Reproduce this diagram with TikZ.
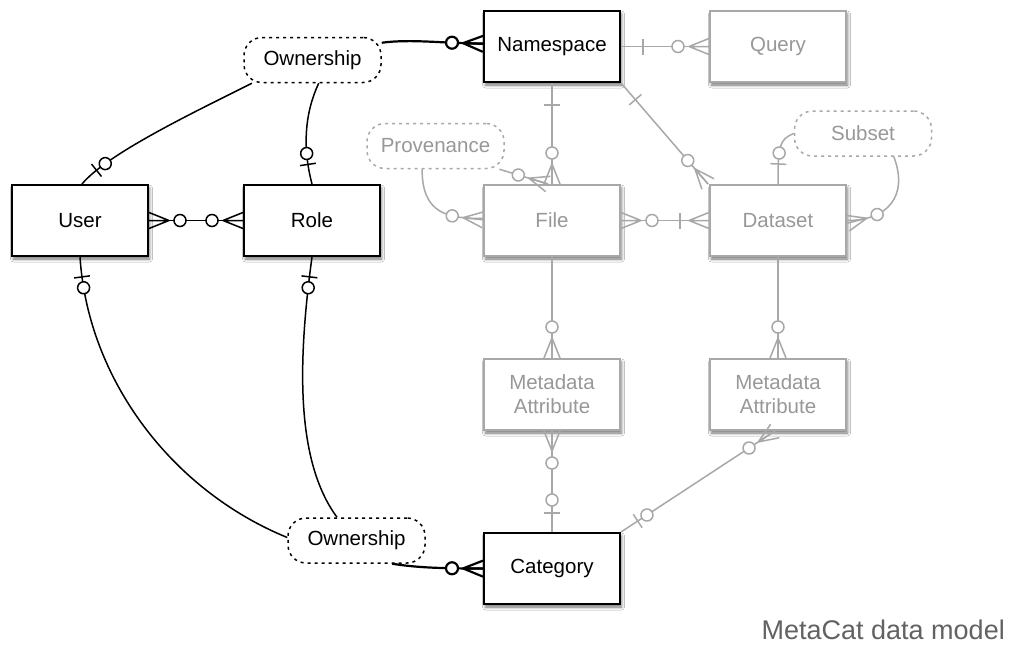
\documentclass[tikz,border=0pt]{standalone}
\usepackage{fontspec}
\setmainfont{Liberation Sans}
\usetikzlibrary{decorations.markings,shadows.blur}

\definecolor{inkgray}{RGB}{168,168,168}
\definecolor{textgray}{RGB}{152,152,152}
\definecolor{titlegray}{RGB}{98,98,98}

\tikzset{
  % crow's foot, ring and bar markers placed along a connector
  crowE/.style={postaction={decorate,decoration={markings,
      mark=at position -20pt with {\draw (0pt,0pt)--(20pt,8pt) (0pt,0pt)--(20pt,0pt) (0pt,0pt)--(20pt,-8pt);}}}},
  crowS/.style={postaction={decorate,decoration={markings,
      mark=at position 20pt with {\draw (0pt,0pt)--(-20pt,8pt) (0pt,0pt)--(-20pt,0pt) (0pt,0pt)--(-20pt,-8pt);}}}},
  ringE/.style={postaction={decorate,decoration={markings,
      mark=at position -#1 with {\draw[fill=white] (0pt,0pt) circle (6pt);}}}},
  ringE/.default=31pt,
  ringS/.style={postaction={decorate,decoration={markings,
      mark=at position #1 with {\draw[fill=white] (0pt,0pt) circle (6pt);}}}},
  ringS/.default=31pt,
  barE/.style={postaction={decorate,decoration={markings,
      mark=at position -#1 with {\draw (0pt,-8pt)--(0pt,8pt);}}}},
  barE/.default=20pt,
  barS/.style={postaction={decorate,decoration={markings,
      mark=at position #1 with {\draw (0pt,-8pt)--(0pt,8pt);}}}},
  barS/.default=20pt,
}

\begin{document}
\begin{tikzpicture}[x=1pt,y=-1pt,
  font=\fontsize{20.5}{24}\selectfont,
  entity/.style={draw, line width=2pt, fill=white, minimum width=136pt,
    minimum height=71pt, inner sep=0pt, align=center,
    blur shadow={shadow xshift=1.5pt, shadow yshift=-3pt,
      shadow blur radius=3pt, shadow opacity=55}},
  gentity/.style={entity, draw=inkgray, text=textgray},
  relship/.style={draw, line width=1.5pt, dash pattern=on 3pt off 4pt,
    rounded corners=18pt, minimum width=137pt, minimum height=45pt,
    inner sep=0pt, fill=white},
  grelship/.style={relship, draw=inkgray, text=textgray},
  link/.style={line width=1.5pt, color=black},
  boldlink/.style={line width=2.2pt, color=black},
  glink/.style={line width=1.5pt, color=inkgray},
]
\fill[white] (0,0) rectangle (1015,645);
\useasboundingbox (0,0) rectangle (1015,645);

% entities
\node[entity]  (ns)      at (552,46.5)  {Namespace};
\node[gentity] (query)   at (778,46.5)  {Query};
\node[entity]  (user)    at (80,220.5)  {User};
\node[entity]  (role)    at (312,220.5) {Role};
\node[gentity] (file)    at (552,220.5) {File};
\node[gentity] (dataset) at (778,220.5) {Dataset};
\node[gentity] (maf)     at (552,394.5) {Metadata\\Attribute};
\node[gentity] (mad)     at (778,394.5) {Metadata\\Attribute};
\node[entity]  (cat)     at (552,568.5) {Category};

% relationships
\node[relship]  (own1)   at (312.5,60)  {Ownership};
\node[grelship] (prov)   at (435.5,146) {Provenance};
\node[grelship] (subset) at (863,133.5) {Subset};
\node[relship]  (own2)   at (356.5,540.5) {Ownership};

% ownership links
\draw[boldlink, ringE, crowE] (own1.14) .. controls +(30,-4) and +(-40,0) .. ([yshift=3pt]ns.west);
\draw[link, ringE, barE] (own1.201) .. controls +(-60,30) and +(25,-30) .. ([xshift=2pt]user.north);
\draw[link, ringE, barE] (own1.-75) .. controls +(-15,32) and +(-9,-34) .. (role.north);
\draw[link, crowS, ringS, ringE, crowE] (user.east) -- (role.west);
\draw[link, barS, ringS] (user.south) .. controls +(8,123) and +(-115,-47) .. ([yshift=3pt]own2.west);
\draw[link, barS, ringS] (role.south) .. controls +(-14,103) and +(-42,-57) .. (own2.130);
\draw[boldlink, ringE, crowE] (own2.-33) .. controls +(25,4) and +(-40,0) .. (cat.west);

% data links
\draw[glink, barS=22pt, ringE, crowE] (ns.east) -- (query.west);
\draw[glink, barS=22pt, ringE, crowE] (ns.south) -- (file.north);
\draw[glink, barS=22pt, ringE, crowE] (ns.south east) -- ([xshift=-1pt]dataset.north west);
\draw[glink, ringE, crowE] (prov.-20) -- ([xshift=-4pt]file.north);
\draw[glink, ringE, crowE] (prov.-120) .. controls +(0,45) and +(-35,0) .. ([yshift=2pt]file.west);
\draw[glink, crowS, ringS, barE=29pt, crowE] (file.east) -- (dataset.west);
\draw[glink, ringE, barE] (subset.west) .. controls +(-14,6) and +(0,-40) .. (dataset.north);
\draw[glink, ringE, crowE] (subset.-37.5) .. controls +(15,40) and +(40,0) .. (dataset.east);
\draw[glink, ringE, crowE] (file.south) -- (maf.north);
\draw[glink, ringE, crowE] (dataset.south) -- (mad.north);
\draw[glink, crowS, ringS=32pt, ringE=32pt, barE=19pt] (maf.south) -- (cat.north);
\draw[glink, barS, ringS, ringE, crowE] (cat.north east) -- ([xshift=-3pt]mad.south);

% caption
\node[anchor=base east, text=titlegray, font=\fontsize{27}{32}\selectfont, inner sep=0pt]
  (caption) at (1005,639) {MetaCat data model};
\end{tikzpicture}
\end{document}
